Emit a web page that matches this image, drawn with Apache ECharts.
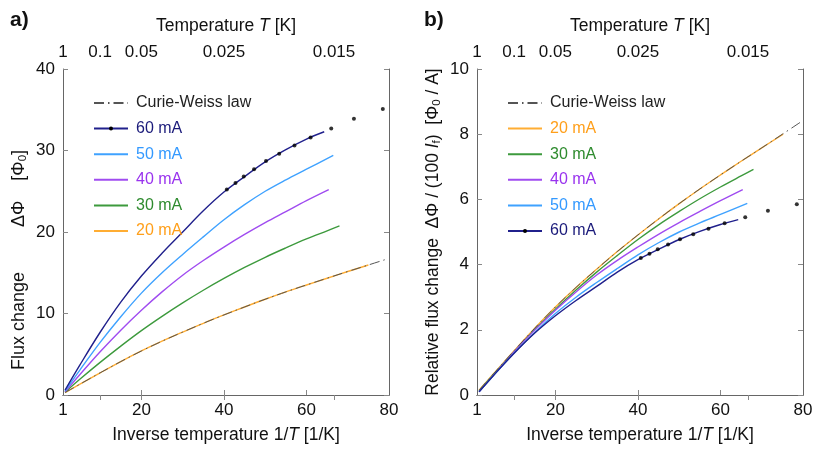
<!DOCTYPE html>
<html>
<head>
<meta charset="utf-8">
<script src="https://cdn.jsdelivr.net/npm/echarts@6/dist/echarts.min.js"></script>
<style>
  html, body { margin: 0; padding: 0; background: #fff; }
  #chart { width: 831px; height: 452px; }
</style>
</head>
<body>
<div id="chart"></div>
<script>
// x = inverse temperature 1/T [1/K]
// panel a: flux change [Phi0]
const cwA = [[1.5,0.3],[5,1.3],[10,2.72],[15,4.1],[20,5.4],[25,6.6],[30,7.72],[35,8.8],[40,9.82],[45,10.8],[50,11.75],[55,12.65],[60,13.5],[65,14.33],[70,15.15],[75,15.95],[79,16.6]]
const i20A = [[1.5,0.3],[5,1.3],[10,2.72],[15,4.1],[20,5.4],[25,6.6],[30,7.72],[35,8.8],[40,9.82],[45,10.8],[50,11.75],[55,12.65],[60,13.5],[65,14.33],[70,15.15],[75,15.95]]
const i30A = [[1.5,0.35],[5,1.9],[10,4.0],[15,6.0],[20,7.9],[25,9.65],[30,11.3],[35,12.85],[40,14.3],[45,15.65],[50,16.9],[55,18.05],[60,19.15],[65,20.15],[68,20.75]]
const i40A = [[1.5,0.4],[5,2.45],[10,5.3],[15,7.95],[20,10.4],[25,12.65],[30,14.7],[35,16.5],[40,18.15],[45,19.7],[50,21.15],[55,22.5],[60,23.85],[65.4,25.2]]
const i50A = [[1.5,0.5],[5,3.0],[10,6.45],[15,9.6],[20,12.5],[25,15.0],[30,17.25],[35,19.4],[40,21.5],[45,23.35],[50,25.0],[55,26.4],[60,27.7],[66.5,29.4]]
const i60A = [[1.5,0.6],[5,3.6],[10,7.7],[15,11.4],[20,14.6],[25,17.4],[30,20.0],[35,22.6],[40,24.9],[45,26.8],[50,28.6],[55,30.1],[60,31.4],[64.3,32.3]]
const dotsA = [[40.7,25.2],[42.8,26.0],[44.8,26.8],[47.3,27.7],[50.2,28.7],[53.4,29.6],[57.1,30.6],[61,31.6],[66,32.7],[71.5,33.9],[78.5,35.1]]

// panel b: relative flux change [Phi0 / A]
const cwB = [[1.5,0.15],[5,0.65],[10,1.36],[15,2.05],[20,2.7],[25,3.3],[30,3.86],[35,4.4],[40,4.91],[45,5.4],[50,5.87],[55,6.32],[60,6.75],[65,7.17],[70,7.58],[75,8.0],[80,8.42]]
const i20B = [[1.5,0.15],[5,0.65],[10,1.36],[15,2.05],[20,2.7],[25,3.3],[30,3.86],[35,4.4],[40,4.91],[45,5.4],[50,5.87],[55,6.32],[60,6.75],[65,7.17],[70,7.58],[75.2,8.0]]
const i30B = [[1.5,0.12],[5,0.63],[10,1.33],[15,2.0],[20,2.63],[25,3.22],[30,3.77],[35,4.28],[40,4.77],[45,5.22],[50,5.63],[55,6.02],[60,6.38],[65,6.72],[68,6.92]]
const i40B = [[1.5,0.1],[5,0.61],[10,1.33],[15,1.99],[20,2.6],[25,3.16],[30,3.68],[35,4.13],[40,4.54],[45,4.93],[50,5.29],[55,5.63],[60,5.96],[65.4,6.3]]
const i50B = [[1.5,0.1],[5,0.6],[10,1.29],[15,1.92],[20,2.5],[25,3.0],[30,3.45],[35,3.88],[40,4.3],[45,4.67],[50,5.0],[55,5.28],[60,5.54],[66.5,5.88]]
const i60B = [[1.5,0.1],[5,0.6],[10,1.28],[15,1.9],[20,2.43],[25,2.9],[30,3.33],[35,3.77],[40,4.15],[45,4.47],[50,4.77],[55,5.02],[60,5.23],[64.3,5.38]]
const dotsB = [[40.7,4.2],[42.8,4.33],[44.8,4.47],[47.3,4.62],[50.2,4.78],[53.4,4.93],[57.1,5.1],[61,5.27],[66,5.45],[71.5,5.65],[78.5,5.85]]

// tick labels
const bottomTicks = [1, 20, 40, 60, 80]
const topTickPos = [1, 10, 20, 40, 66.667]
const topTickLabels = ['1', '0.1', '0.05', '0.025', '0.015']

const FONT = 'Liberation Sans'
const names = {cw: 'Curie-Weiss law', i20: '20 mA', i30: '30 mA', i40: '40 mA', i50: '50 mA', i60: '60 mA'}
const lineColor = {i20: '#ffad33', i30: '#3d9a3d', i40: '#a04cf0', i50: '#3fa2ff', i60: '#20208c'}
const textColor = {cw: '#222', i20: '#ff9f1a', i30: '#2e8b2e', i40: '#9933ee', i50: '#3399ff', i60: '#1a1a7a'}

const chart = echarts.init(document.getElementById('chart'))

// 坐标轴公共样式
const axisLine = { show: true, lineStyle: { color: '#666', width: 1 } }
const tick = (vals) => ({ show: true, inside: true, length: 5, customValues: vals, lineStyle: { color: '#888' } })
const labelStyle = { fontFamily: FONT, fontSize: 17, color: '#111' }
const titleStyle = (extra) => Object.assign({ fontFamily: FONT, fontSize: 17.5, color: '#111' }, extra)

function bottomAxis (grid) {
  return {
    type: 'value', gridIndex: grid, position: 'bottom', min: 1, max: 80,
    axisLine: axisLine, splitLine: { show: false },
    axisTick: tick([20, 40, 60]),
    axisLabel: Object.assign({ customValues: bottomTicks, margin: 7 }, labelStyle),
    name: 'Inverse temperature 1/{i|T} [1/K]', nameLocation: 'middle', nameGap: 31,
    nameTextStyle: titleStyle({ rich: { i: titleStyle({ fontStyle: 'italic' }) } })
  }
}
function topAxis (grid) {
  return {
    type: 'value', gridIndex: grid, position: 'top', min: 1, max: 80,
    axisLine: axisLine, splitLine: { show: false },
    axisTick: tick(topTickPos.slice(1)),
    axisLabel: Object.assign({ customValues: topTickPos, margin: 8,
      formatter: (v) => topTickLabels[topTickPos.indexOf(v)] }, labelStyle),
    name: 'Temperature {i|T} [K]', nameLocation: 'middle', nameGap: 34,
    nameTextStyle: titleStyle({ rich: { i: titleStyle({ fontStyle: 'italic' }) } })
  }
}
function leftAxis (grid, max, step, name, shift, size) {
  const ts = (extra) => titleStyle(Object.assign({ fontSize: size }, extra))
  return {
    type: 'value', gridIndex: grid, position: 'left', min: 0, max: max, interval: step,
    axisLine: axisLine, splitLine: { show: false },
    axisTick: { show: true, inside: true, length: 5, lineStyle: { color: '#888' } },
    axisLabel: Object.assign({ margin: 8 }, labelStyle),
    name: name, nameLocation: 'middle', nameGap: 34, nameRotate: 90,
    nameTextStyle: ts({
      padding: [0, shift, 0, 0],
      rich: {
        n: ts({ lineHeight: 20 }),
        i: ts({ fontStyle: 'italic', lineHeight: 20 }),
        s: ts({ fontSize: 11.5, verticalAlign: 'bottom', lineHeight: 11 })
      } })
  }
}
function rightAxis (grid, max, step) {
  return {
    type: 'value', gridIndex: grid, position: 'right', min: 0, max: max, interval: step,
    axisLine: axisLine, splitLine: { show: false },
    axisTick: { show: true, inside: true, length: 5, lineStyle: { color: '#888' } },
    axisLabel: { show: false }
  }
}

function curve (key, data, xi, yi) {
  return {
    name: names[key], type: 'line', xAxisIndex: xi, yAxisIndex: yi, data: data,
    smooth: 0.35, showSymbol: false, symbol: 'circle', symbolSize: 4,
    itemStyle: { color: key === 'i60' ? '#000' : lineColor[key] },
    lineStyle: { color: lineColor[key], width: 1.4 }, z: 2, silent: true
  }
}
function cwCurve (data, xi, yi) {
  return {
    name: names.cw, type: 'line', xAxisIndex: xi, yAxisIndex: yi, data: data,
    smooth: 0.35, showSymbol: false, symbol: 'circle',
    itemStyle: { color: '#555' },
    lineStyle: { color: '#555', width: 1, type: [10, 4, 1.5, 4] }, z: 3, silent: true
  }
}
function dots (data, xi, yi) {
  return {
    name: 'pts', type: 'scatter', xAxisIndex: xi, yAxisIndex: yi, data: data,
    symbol: 'circle', symbolSize: 4, itemStyle: { color: '#000' }, z: 4, silent: true
  }
}
function legend (left, order) {
  return {
    orient: 'vertical', left: left, top: 90, itemWidth: 34, itemHeight: 5, itemGap: 9.6,
    selectedMode: false,
    data: order.map(k => ({
      name: names[k],
      itemStyle: k === 'i60' ? { color: '#000' } : { opacity: 0 },
      textStyle: { color: textColor[k] }
    })),
    textStyle: { fontFamily: FONT, fontSize: 16, lineHeight: 14, padding: [0, 0, 0, 3] }
  }
}

chart.setOption({
  animation: false,
  backgroundColor: '#fff',
  grid: [
    { left: 63, top: 69, width: 326, height: 326 },
    { left: 477, top: 69, width: 326, height: 326 }
  ],
  xAxis: [bottomAxis(0), topAxis(0), bottomAxis(1), topAxis(1)],
  yAxis: [
    leftAxis(0, 40, 10, '{n|Flux change         ΔΦ    [Φ}{s|0}{n|]}', 56, 18),
    rightAxis(0, 40, 10),
    leftAxis(1, 10, 2, '{n|Relative flux change  ΔΦ / (100 }{i|I}{s|f}{n|)  [Φ}{s|0}{n| / A]}', 0, 17.5),
    rightAxis(1, 10, 2)
  ],
  legend: [
    legend(88, ['cw', 'i60', 'i50', 'i40', 'i30', 'i20']),
    legend(502, ['cw', 'i20', 'i30', 'i40', 'i50', 'i60'])
  ],
  graphic: [
    { type: 'text', left: 10, top: 10, style: { text: 'a)', fontFamily: FONT, fontSize: 21, fontWeight: 'bold', fill: '#111' } },
    { type: 'text', left: 424, top: 10, style: { text: 'b)', fontFamily: FONT, fontSize: 21, fontWeight: 'bold', fill: '#111' } }
  ],
  series: [
    curve('i20', i20A, 0, 0), curve('i30', i30A, 0, 0), curve('i40', i40A, 0, 0),
    curve('i50', i50A, 0, 0), curve('i60', i60A, 0, 0), cwCurve(cwA, 0, 0), dots(dotsA, 0, 0),
    curve('i20', i20B, 2, 2), curve('i30', i30B, 2, 2), curve('i40', i40B, 2, 2),
    curve('i50', i50B, 2, 2), curve('i60', i60B, 2, 2), cwCurve(cwB, 2, 2), dots(dotsB, 2, 2)
  ]
})
</script>
</body>
</html>
